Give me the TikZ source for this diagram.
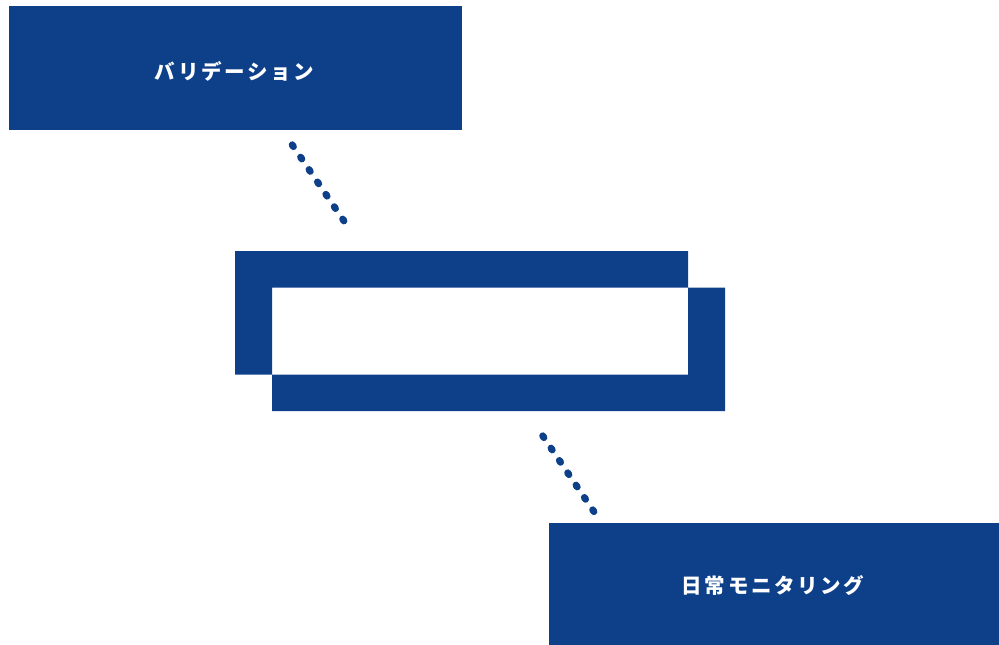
\documentclass[tikz,border=0pt]{standalone}
\usepackage{fontspec}
\usetikzlibrary{calc}
\newfontfamily\cjk{Noto Sans CJK JP}[LetterSpace=13]
\definecolor{navy}{RGB}{14,64,138}
\begin{document}
\begin{tikzpicture}[x=1pt,y=-1pt,
  box/.style={fill=navy,draw=none,inner sep=0pt},
  boxtext/.style={text=white,inner sep=0pt,font=\cjk\bfseries\fontsize{20.5pt}{24pt}\selectfont},
  dotseg/.style={draw=navy,line width=7pt,line cap=round},
  framepart/.style={fill=navy,draw=none}]
\useasboundingbox (0,0) rectangle (999,645);
\node[box,minimum width=453pt,minimum height=124pt] (val) at (235.5,68) {};
\node[boxtext] (valtext) at ($(val.center)+(-1,3)$) {バリデーション};
\node[box,minimum width=450pt,minimum height=122pt] (mon) at (774,584) {};
\node[boxtext] (montext) at ($(mon.center)+(-1,2)$) {日常モニタリング};
% central frame
\node[minimum width=490pt,minimum height=160pt,inner sep=0pt] (frame) at (480,331) {};
\fill[framepart] (235,251) -- (688,251) -- (688,287.5) -- (272,287.5) -- (272,374.5) -- (235,374.5) -- cycle;
\fill[framepart] (688,287.5) -- (725,287.5) -- (725,411) -- (272,411) -- (272,374.5) -- (688,374.5) -- cycle;
% dotted connectors
\coordinate (d1a) at (292.8,145.7);
\coordinate (d1b) at (343.3,220);
\coordinate (d2a) at (543.3,436.7);
\coordinate (d2b) at (593.3,510.7);
\foreach \p/\q in {d1a/d1b,d2a/d2b}{
  \foreach \t in {0,...,6}{
    \draw[dotseg] ($(\p)!{\t/6-0.012}!(\q)$) -- ($(\p)!{\t/6+0.012}!(\q)$);
  }
}
\end{tikzpicture}
\end{document}
